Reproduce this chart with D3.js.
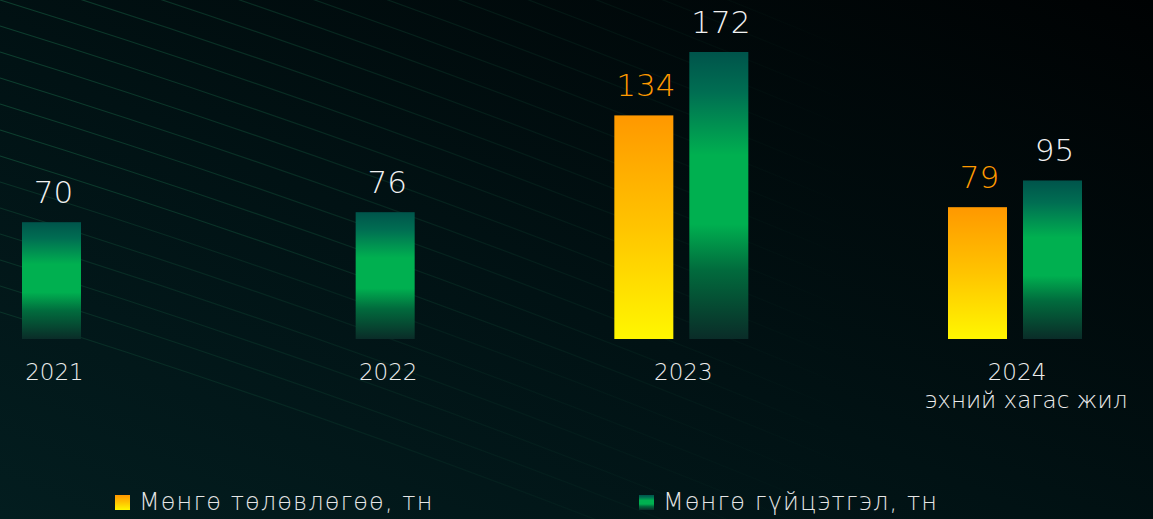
<!DOCTYPE html>
<html>
<head>
<meta charset="utf-8">
<script src="https://cdn.jsdelivr.net/npm/d3@7"></script>
<style>
  html, body { margin: 0; padding: 0; background: #000; }
  svg { display: block; }
  text { font-family: "DejaVu Sans", sans-serif; }
</style>
</head>
<body>
<svg id="chart" width="1153" height="519"></svg>
<script>
// Data
const years     = ["2021", "2022", "2023", "2024"]
const yearNotes = ["", "", "", "эхний хагас жил"]
const plan      = [null, null, 134, 79]
const actual    = [70, 76, 172, 95]
const series    = ["plan", "actual"]
const seriesNames = ["Мөнгө төлөвлөгөө, тн", "Мөнгө гүйцэтгэл, тн"]

const width = 1153, height = 519

let svg = d3.select("#chart")
let defs = svg.append("defs")

// background
let bg = defs.append("linearGradient").attr("id", "bg")
    .attr("x1", "0").attr("y1", "1").attr("x2", "1").attr("y2", "0")
bg.append("stop").attr("offset", "0%").attr("stop-color", "#031d1f")
bg.append("stop").attr("offset", "45%").attr("stop-color", "#011214")
bg.append("stop").attr("offset", "100%").attr("stop-color", "#000203")

svg.append("rect").attr("width", width).attr("height", height).attr("fill", "url(#bg)")

// faint diagonal lines in the top left corner
let lineFade = defs.append("linearGradient").attr("id", "lineFade")
    .attr("gradientUnits", "userSpaceOnUse")
    .attr("x1", 0).attr("y1", 0).attr("x2", 850).attr("y2", 0)
lineFade.append("stop").attr("offset", "0%").attr("stop-color", "#115038").attr("stop-opacity", 0.85)
lineFade.append("stop").attr("offset", "55%").attr("stop-color", "#115038").attr("stop-opacity", 0.3)
lineFade.append("stop").attr("offset", "100%").attr("stop-color", "#115038").attr("stop-opacity", 0)

let deco = svg.append("g").attr("class", "deco")
d3.range(-260, 330, 26).forEach((y0) => {
  deco.append("path")
      .attr("d", `M0,${y0} Q420,${y0 + 130} 850,${y0 + 310}`)
      .attr("fill", "none")
      .attr("stroke", "url(#lineFade)")
      .attr("stroke-opacity", y0 > 180 ? 0.55 : 0.85)
      .attr("stroke-width", 1.1)
})

// bar gradients
let gGreen = defs.append("linearGradient").attr("id", "green")
    .attr("x1", "0").attr("y1", "0").attr("x2", "0").attr("y2", "1")
;[["0%", "#00544b"], ["14%", "#006e52"], ["36%", "#00b050"], ["60%", "#00b050"],
  ["76%", "#016b3d"], ["100%", "#0a2c28"]].forEach(([o, c]) =>
  gGreen.append("stop").attr("offset", o).attr("stop-color", c))

let gOrange = defs.append("linearGradient").attr("id", "orange")
    .attr("x1", "0").attr("y1", "0").attr("x2", "0").attr("y2", "1")
;[["0%", "#ff9800"], ["50%", "#ffc400"], ["100%", "#fff700"]].forEach(([o, c]) =>
  gOrange.append("stop").attr("offset", o).attr("stop-color", c))

const fills  = { plan: "url(#orange)", actual: "url(#green)" }
const labelColor = { plan: "#ff9a00", actual: "#f2f2f2" }

// scales
const x = d3.scalePoint().domain(years).range([14, 1015])
const x1 = d3.scaleBand().domain(series).range([-67, 67]).paddingInner(0.2133)
const y = d3.scaleLinear().domain([0, d3.max(actual)]).range([339, 52])

const rows = years.map((yr, i) => ({ year: yr, note: yearNotes[i], plan: plan[i], actual: actual[i] }))

let groups = svg.append("g").attr("class", "bars")
  .selectAll("g")
  .data(rows)
  .enter().append("g")
    .attr("transform", (d) => `translate(${x(d.year)},0)`)

let bars = groups.selectAll("g.bar")
  .data((d) => series.filter((s) => d[s] != null).map((s) => ({ key: s, value: d[s] })))
  .enter().append("g").attr("class", "bar")

bars.append("rect")
    .attr("x", (d) => x1(d.key))
    .attr("width", x1.bandwidth())
    .attr("y", (d) => y(d.value))
    .attr("height", (d) => y(0) - y(d.value))
    .attr("fill", (d) => fills[d.key])

bars.append("text")
    .attr("x", (d) => x1(d.key) + x1.bandwidth() / 2 + 2)
    .attr("y", (d) => y(d.value) - 19)
    .attr("text-anchor", "middle")
    .attr("font-size", 31)
    .attr("font-weight", 300)
    .attr("fill", (d) => labelColor[d.key])
    .text((d) => d.value)

// category labels, centred on the bars that exist
function labelX(d) {
  if (d.plan == null) return x1("actual") + x1.bandwidth() / 2 + 3
  return 2
}

let cat = groups.append("text")
    .attr("text-anchor", "middle")
    .attr("font-size", 23)
    .attr("font-weight", 300)
    .attr("fill", "#ececec")

cat.append("tspan")
    .attr("x", labelX)
    .attr("y", 380)
    .text((d) => d.year)

cat.filter((d) => d.note).append("tspan")
    .attr("x", (d) => labelX(d) + 9)
    .attr("y", 408)
    .text((d) => d.note)

// legend
const legendX = [115, 639]
let legend = svg.append("g").attr("class", "legend")
  .selectAll("g")
  .data(series)
  .enter().append("g")
    .attr("transform", (d, i) => `translate(${legendX[i]},495)`)

legend.append("rect")
    .attr("width", 15)
    .attr("height", 15)
    .attr("fill", (d) => fills[d])

legend.append("text")
    .attr("x", 24)
    .attr("y", 15)
    .attr("font-size", 24)
    .attr("font-weight", 300)
    .attr("letter-spacing", 1.1)
    .attr("fill", "#e6e6e6")
    .text((d, i) => seriesNames[i])
</script>
</body>
</html>
